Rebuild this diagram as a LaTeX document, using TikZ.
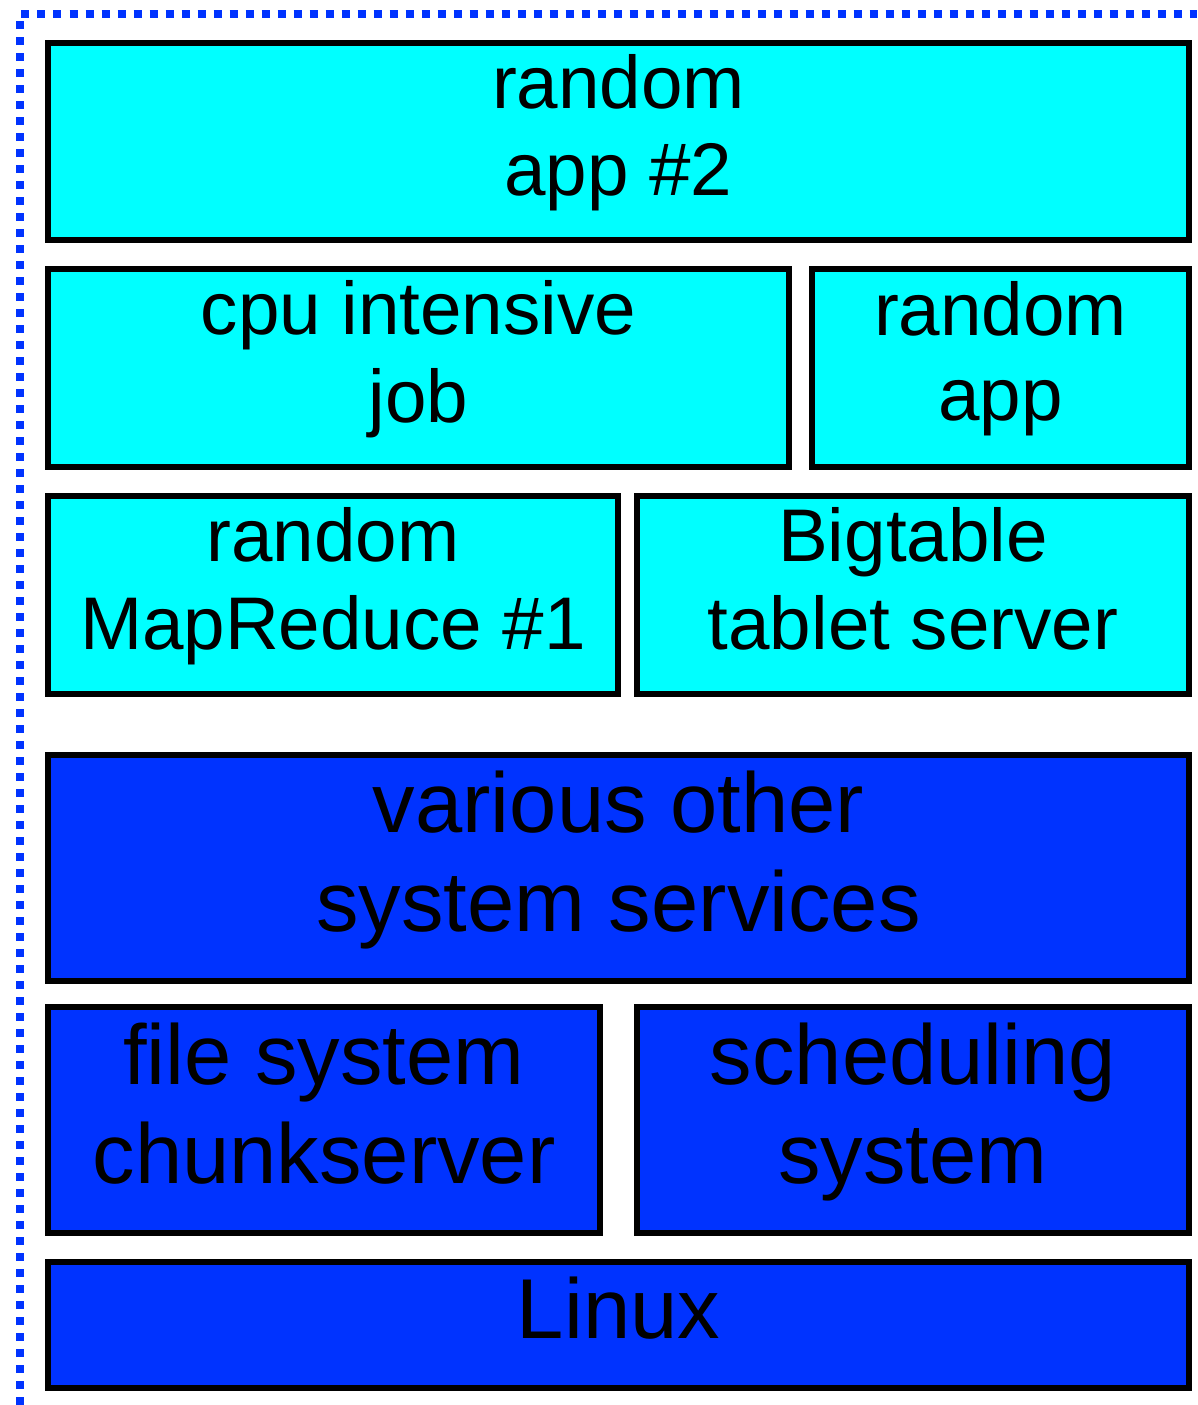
\documentclass[tikz,border=0pt]{standalone}
\usepackage{fontspec}
\setmainfont{Liberation Sans}
\definecolor{appcyan}{HTML}{00FFFF}
\definecolor{sysblue}{HTML}{0033FF}
\newcommand\cst{\rule[-33.5pt]{0pt}{85pt}}
\newcommand\bst{\rule[-36pt]{0pt}{99pt}}
\tikzset{
  layerbox/.style={draw=black, line width=6pt, rectangle, inner sep=0pt, outer sep=0pt, align=center, text=black},
  appbox/.style={layerbox, fill=appcyan, font=\fontsize{74.6}{85}\selectfont},
  sysbox/.style={layerbox, fill=sysblue, font=\fontsize{85}{99}\selectfont},
  dotborder/.style={draw=sysblue, line width=8pt, dash pattern=on 8pt off 8pt, line cap=butt}
}
\begin{document}
\begin{tikzpicture}[x=1pt,y=-1pt]
\useasboundingbox (0,0) rectangle (1197,1405);
\draw[dotborder] (20,1405) -- (20,14.5) -- (1197,14.5);
\node[appbox, minimum width=1141pt, minimum height=197pt] (app2) at (618.5,141.5) {random\cst\\app \#2\cst};
\node[appbox, minimum width=741pt, minimum height=198pt] (cpu) at (418.5,368) {cpu intensive\cst\\job\cst};
\node[appbox, minimum width=377pt, minimum height=198pt] (rapp) at (1000.5,368) {random\cst\\app\cst};
\node[appbox, minimum width=570pt, minimum height=198pt] (mr) at (333,595) {random\cst\\MapReduce \#1\cst};
\node[appbox, minimum width=552pt, minimum height=198pt] (bt) at (913,595) {Bigtable\cst\\tablet server\cst};
\node[sysbox, minimum width=1141pt, minimum height=226pt] (various) at (618.5,868) {various other\bst\\system services\bst};
\node[sysbox, minimum width=552pt, minimum height=226pt] (fs) at (324,1120) {file system\bst\\chunkserver\bst};
\node[sysbox, minimum width=552pt, minimum height=226pt] (sched) at (913,1120) {scheduling\bst\\system\bst};
\node[sysbox, minimum width=1141pt, minimum height=126pt] (linux) at (618.5,1325) {Linux\bst};
\end{tikzpicture}
\end{document}
